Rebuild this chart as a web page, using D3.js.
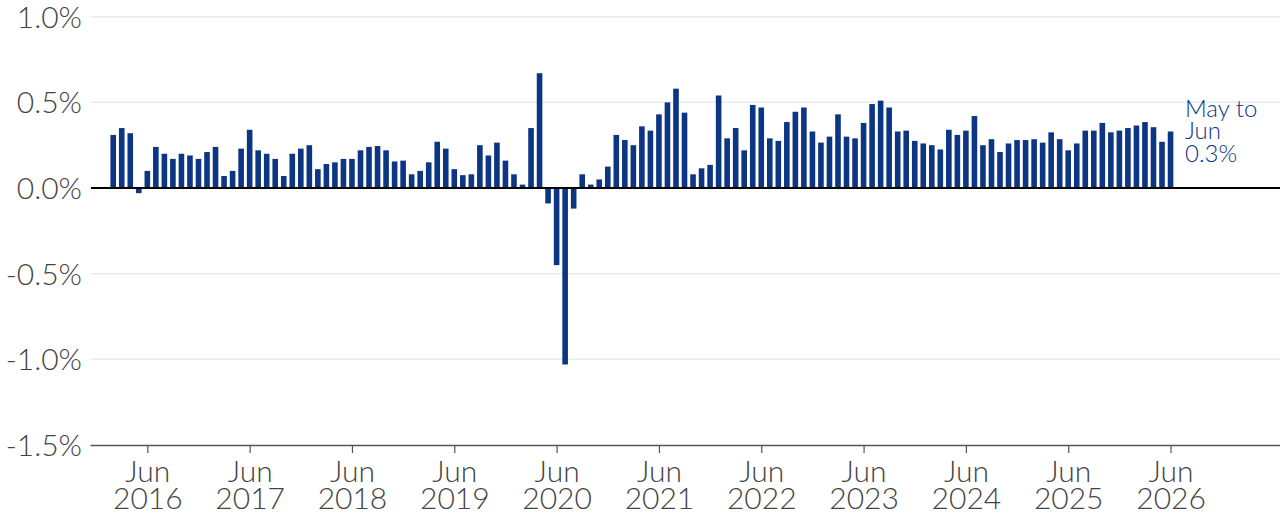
<!DOCTYPE html>
<html>
<head>
<meta charset="utf-8">
<script src="https://cdn.jsdelivr.net/npm/d3@7"></script>
<style>
  body { margin: 0; background: #fff; }
  svg { display: block; font-family: Lato, Inter, "Noto Sans", sans-serif; }
</style>
</head>
<body>
<script>
// monthly change, Feb 2016 .. Jun 2026 (%)
let firstMonth = new Date(2016, 1, 1);
let lastMonth = new Date(2026, 5, 1);
let values = [
  0.31, 0.35, 0.32, -0.03, 0.10, 0.24, 0.20, 0.17, 0.20, 0.19, 0.17,     // 2016
  0.21, 0.24, 0.07, 0.10, 0.23, 0.34, 0.22, 0.20, 0.17, 0.07, 0.20, 0.23, // 2017
  0.25, 0.11, 0.14, 0.15, 0.17, 0.17, 0.22, 0.24, 0.245, 0.22, 0.155, 0.16, // 2018
  0.08, 0.10, 0.15, 0.27, 0.23, 0.11, 0.075, 0.08, 0.25, 0.19, 0.265, 0.16, // 2019
  0.08, 0.02, 0.35, 0.67, -0.09, -0.45, -1.03, -0.12, 0.08, 0.02, 0.05, 0.125, // 2020
  0.31, 0.28, 0.25, 0.36, 0.335, 0.43, 0.50, 0.58, 0.44, 0.08, 0.115, 0.135, // 2021
  0.54, 0.29, 0.35, 0.22, 0.485, 0.47, 0.29, 0.275, 0.385, 0.445, 0.47, 0.33, // 2022
  0.265, 0.30, 0.43, 0.30, 0.29, 0.38, 0.49, 0.51, 0.47, 0.33, 0.335, 0.275, // 2023
  0.26, 0.25, 0.225, 0.34, 0.31, 0.335, 0.42, 0.25, 0.285, 0.21, 0.26, 0.28, // 2024
  0.28, 0.285, 0.265, 0.325, 0.285, 0.22, 0.26, 0.335, 0.335, 0.38, 0.325, 0.335, // 2025
  0.35, 0.365, 0.385, 0.355, 0.27, 0.33                                   // 2026
];
let yTicks = [1.0, 0.5, 0.0, -0.5, -1.0, -1.5];
let tickYears = [2016, 2017, 2018, 2019, 2020, 2021, 2022, 2023, 2024, 2025, 2026];
let noteLines = ['May to', 'Jun', '0.3%'];

let width = 1280, height = 518;
let navy = '#0c3584';
let font = 'Lato, Inter, "Noto Sans", sans-serif';

let months = d3.timeMonth.range(firstMonth, d3.timeMonth.offset(lastMonth, 1));
let data = months.map((m, i) => ({ month: m, value: values[i] }));

let svg = d3.select('body').append('svg')
    .attr('width', width)
    .attr('height', height);

let x = d3.scalePoint()
    .domain(months.map(d => +d))
    .range([90, width])
    .padding(7.78)
    .align(0.175);

let y = d3.scaleLinear()
    .domain([-1.5, 1.0])
    .range([445, 16.7]);

// plain hyphen, like the original labels
let pct = d => d.toFixed(1) + '%';

// gridlines
svg.append('g')
  .selectAll('line')
  .data(yTicks.filter(d => d !== 0 && d !== -1.5))
  .enter().append('line')
    .attr('x1', 91).attr('x2', width)
    .attr('y1', d => y(d)).attr('y2', d => y(d))
    .attr('stroke', '#ebebeb')
    .attr('stroke-width', 1.5);

// y labels
svg.append('g')
  .selectAll('text')
  .data(yTicks)
  .enter().append('text')
    .attr('x', 82)
    .attr('y', d => y(d) + 11)
    .attr('text-anchor', 'end')
    .attr('font-family', font)
    .attr('font-size', 30)
    .attr('font-weight', 300)
    .attr('fill', '#444')
    .text(pct);

// bars
svg.append('g')
  .selectAll('rect')
  .data(data)
  .enter().append('rect')
    .attr('x', d => x(+d.month) - 2.8)
    .attr('width', 5.6)
    .attr('y', d => y(Math.max(0, d.value)))
    .attr('height', d => Math.abs(y(d.value) - y(0)))
    .attr('fill', navy);

// zero line
svg.append('line')
    .attr('x1', 91).attr('x2', width)
    .attr('y1', y(0)).attr('y2', y(0))
    .attr('stroke', '#000')
    .attr('stroke-width', 2);

// x axis
let xAxis = d3.axisBottom(x)
    .tickValues(tickYears.map(yr => +new Date(yr, 5, 1)))
    .tickSizeInner(8)
    .tickSizeOuter(0)
    .tickFormat('');

let gx = svg.append('g')
    .attr('transform', `translate(0, ${y(-1.5)})`)
    .call(xAxis);

gx.select('.domain').attr('stroke', '#555').attr('stroke-width', 1.5);
gx.selectAll('.tick line').attr('stroke', '#555').attr('stroke-width', 1.2);

gx.selectAll('.tick').append('text')
    .attr('fill', '#444')
    .attr('font-family', font)
    .attr('font-size', 30)
    .attr('font-weight', 300)
    .attr('text-anchor', 'middle')
    .each(function(d) {
      let t = d3.select(this);
      t.append('tspan').attr('x', 0).attr('y', 37).text('Jun');
      t.append('tspan').attr('x', 0).attr('y', 64).text(new Date(d).getFullYear());
    });

// end note
svg.append('text')
    .attr('fill', navy)
    .attr('font-family', font)
    .attr('font-size', 24)
    .attr('font-weight', 300)
    .selectAll('tspan')
    .data(noteLines)
    .enter().append('tspan')
      .attr('x', 1185)
      .attr('y', (d, i) => 116.7 + i * 22.5)
      .text(d => d);
</script>
</body>
</html>
